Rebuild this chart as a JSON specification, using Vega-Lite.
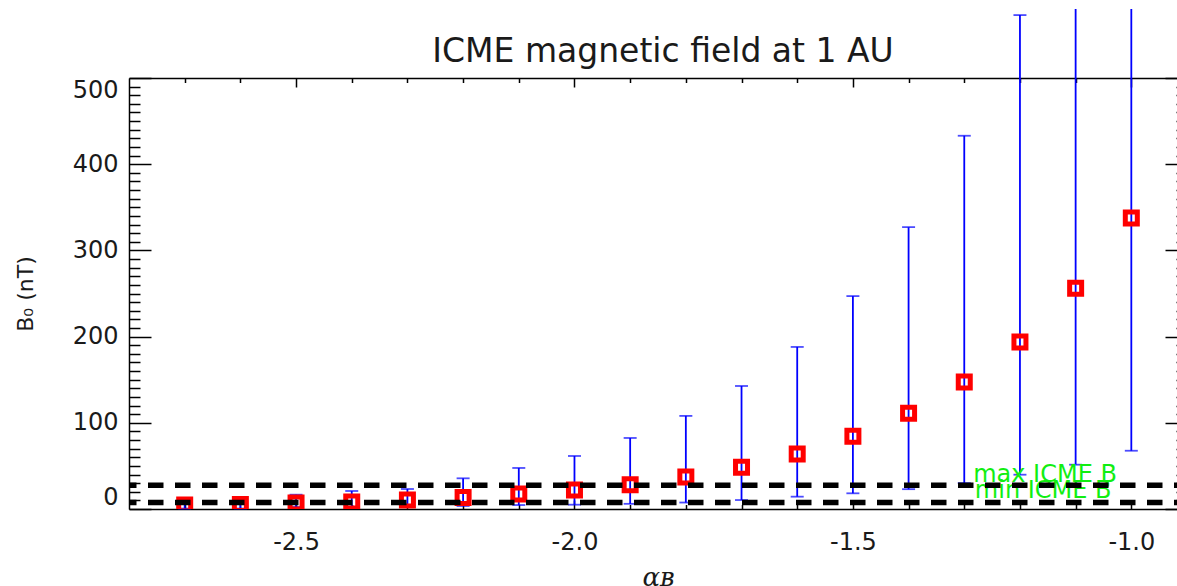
{
  "$schema": "https://vega.github.io/schema/vega-lite/v6.json",
  "width": 1058,
  "height": 431,
  "autosize": {"type": "none"},
  "padding": {"left": 129, "top": 78, "right": -10, "bottom": 77},
  "background": "white",
  "title": {"text": "ICME magnetic field at 1 AU", "font": "DejaVu Sans", "fontSize": 33, "fontWeight": "normal", "color": "#1a1a1a", "anchor": "middle", "offset": -61, "dx": 5},
  "config": {
    "view": {"stroke": null},
    "axis": {"grid": false, "domainColor": "black", "domainWidth": 1.5, "tickColor": "black", "tickWidth": 1.5, "labelFont": "DejaVu Sans", "labelFontSize": 24, "labelColor": "#1a1a1a", "titleColor": "#1a1a1a", "titleFontWeight": "normal"}
  },
  "datasets": {
    "main": [
      {"alpha": -2.7, "B0": 4.6, "lower": 0.5, "upper": 9.6},
      {"alpha": -2.6, "B0": 5.2, "lower": 0.5, "upper": 12.8},
      {"alpha": -2.5, "B0": 7.0, "lower": 2.3, "upper": 16.6},
      {"alpha": -2.4, "B0": 8.1, "lower": 2.3, "upper": 20.9},
      {"alpha": -2.3, "B0": 10.4, "lower": 3.5, "upper": 23.2},
      {"alpha": -2.2, "B0": 13.3, "lower": 3.5, "upper": 35.6},
      {"alpha": -2.1, "B0": 17.4, "lower": 4.6, "upper": 47.6},
      {"alpha": -2.0, "B0": 22.0, "lower": 5.0, "upper": 61.5},
      {"alpha": -1.9, "B0": 28.0, "lower": 6.0, "upper": 82.4},
      {"alpha": -1.8, "B0": 37.0, "lower": 7.5, "upper": 108},
      {"alpha": -1.7, "B0": 48.4, "lower": 10.4, "upper": 142.7},
      {"alpha": -1.6, "B0": 63.8, "lower": 14.3, "upper": 188},
      {"alpha": -1.5, "B0": 84.3, "lower": 18.2, "upper": 247},
      {"alpha": -1.4, "B0": 111, "lower": 23, "upper": 327},
      {"alpha": -1.3, "B0": 147.3, "lower": 30, "upper": 433},
      {"alpha": -1.2, "B0": 193.7, "lower": 39.8, "upper": 573},
      {"alpha": -1.1, "B0": 256, "lower": 51.4, "upper": 580},
      {"alpha": -1.0, "B0": 337.6, "lower": 67.6, "upper": 580}
    ],
    "lines": [
      {"name": "max ICME B", "B": 27.5},
      {"name": "min ICME B", "B": 7.5}
    ],
    "labels": [
      {"label": "max ICME B", "a": -1.284, "b": 31.5},
      {"label": "min ICME B", "a": -1.281, "b": 12.7}
    ]
  },
  "layer": [
    {
      "data": {"name": "main"},
      "mark": {"type": "rule", "color": "#0000ff", "strokeWidth": 1.8},
      "encoding": {
        "x": {"field": "alpha", "type": "quantitative", "scale": {"domain": [-2.8, -0.9], "nice": false, "zero": false},
          "axis": {"orient": "bottom", "values": [-2.5, -2.0, -1.5, -1.0], "tickSize": -9, "labelPadding": 30, "labelExpr": "replace(format(datum.value, '.1f'), '\u2212', '-')", "domain": true,
            "title": "\u03b1\u0299", "titleFont": "DejaVu Serif", "titleFontStyle": "italic", "titleFontSize": 26, "titlePadding": 10}},
        "y": {"field": "lower", "type": "quantitative", "scale": {"domain": [0, 500], "nice": false, "zero": false},
          "axis": {"orient": "left", "values": [10,20,30,40,50,60,70,80,90,110,120,130,140,150,160,170,180,190,210,220,230,240,250,260,270,280,290,310,320,330,340,350,360,370,380,390,410,420,430,440,450,460,470,480,490], "tickSize": -11, "labels": false, "domain": false, "title": null}},
        "y2": {"field": "upper"}
      }
    },
    {
      "data": {"name": "main"},
      "transform": [{"filter": "datum.upper < 575"}],
      "mark": {"type": "tick", "orient": "horizontal", "color": "#0000ff", "size": 13, "thickness": 1.8},
      "encoding": {
        "x": {"field": "alpha", "type": "quantitative", "scale": {"domain": [-2.8, -0.9], "nice": false, "zero": false},
          "axis": {"orient": "bottom", "values": [-2.7,-2.6,-2.4,-2.3,-2.2,-2.1,-1.9,-1.8,-1.7,-1.6,-1.4,-1.3,-1.2,-1.1], "tickSize": -4.5, "labels": false, "domain": false, "title": null}},
        "y": {"field": "upper", "type": "quantitative",
          "axis": {"orient": "right", "values": [0,100,200,300,400,500], "tickSize": -22, "labels": false, "domain": true, "title": null}}
      }
    },
    {
      "data": {"name": "main"},
      "mark": {"type": "tick", "orient": "horizontal", "color": "#0000ff", "size": 13, "thickness": 1.8},
      "encoding": {
        "x": {"field": "alpha", "type": "quantitative",
          "axis": {"orient": "top", "values": [-2.5, -2.0, -1.5, -1.0], "tickSize": -9, "labels": false, "domain": true, "title": null}},
        "y": {"field": "lower", "type": "quantitative",
          "axis": {"orient": "right", "values": [10,20,30,40,50,60,70,80,90,110,120,130,140,150,160,170,180,190,210,220,230,240,250,260,270,280,290,310,320,330,340,350,360,370,380,390,410,420,430,440,450,460,470,480,490], "tickSize": -11, "labels": false, "domain": false, "title": null}}
      }
    },
    {
      "data": {"name": "main"},
      "mark": {"type": "point", "shape": "square", "filled": false, "color": "#ff0000", "size": 144, "strokeWidth": 5, "opacity": 1, "clip": true},
      "encoding": {
        "x": {"field": "alpha", "type": "quantitative",
          "axis": {"orient": "top", "values": [-2.7,-2.6,-2.4,-2.3,-2.2,-2.1,-1.9,-1.8,-1.7,-1.6,-1.4,-1.3,-1.2,-1.1], "tickSize": -4.5, "labels": false, "domain": false, "title": null}},
        "y": {"field": "B0", "type": "quantitative", "axis": null}
      }
    },
    {
      "data": {"name": "labels"},
      "mark": {"type": "text", "align": "left", "baseline": "alphabetic", "font": "DejaVu Sans", "fontSize": 24, "color": "#11ee11"},
      "encoding": {
        "x": {"field": "a", "type": "quantitative", "axis": null},
        "y": {"field": "b", "type": "quantitative", "axis": null},
        "text": {"field": "label"}
      }
    },
    {
      "data": {"name": "lines"},
      "mark": {"type": "rule", "color": "black", "strokeWidth": 5.5, "strokeDash": [15.5, 11.5], "strokeDashOffset": 2.5},
      "encoding": {
        "y": {"field": "B", "type": "quantitative",
          "axis": {"orient": "left", "values": [0,100,200,300,400,500], "tickSize": -22, "labelPadding": 33, "labelFlush": true, "domain": true,
            "title": "B\u2080 (nT)", "titleFont": "DejaVu Sans", "titleFontSize": 22, "titlePadding": 35}}
      }
    }
  ],
  "resolve": {"axis": {"x": "independent", "y": "independent"}}
}
